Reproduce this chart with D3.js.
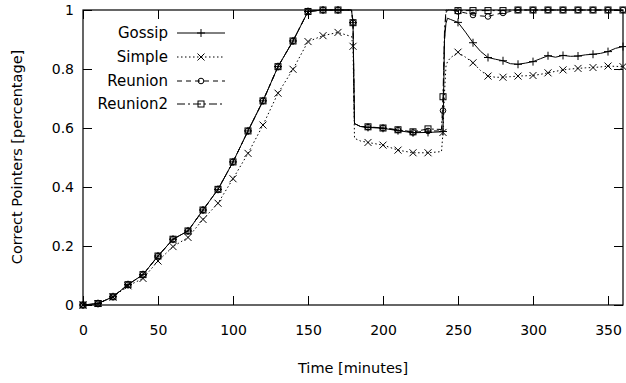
<!DOCTYPE html>
<html><head><meta charset="utf-8">
<script src="https://cdn.jsdelivr.net/npm/d3@7"></script>
<style>body{margin:0;background:#fff;} text{font-family:"DejaVu Sans",sans-serif;fill:#000;}</style>
</head><body>
<svg id="chart" width="626" height="383"></svg>
<script>
const times = [0,10,20,30,40,50,60,70,80,90,100,110,120,130,140,150,160,170,179,180,181,185,190,200,210,220,230,239,240,241,242,243,245,250,255,260,265,270,275,280,285,290,295,300,305,310,315,320,325,330,335,340,345,350,355,360];
const gossip = [0,0.005,0.028,0.069,0.103,0.166,0.223,0.251,0.322,0.392,0.485,0.59,0.692,0.808,0.895,0.995,1,1,1,0.957,0.615,0.605,0.602,0.599,0.591,0.584,0.585,0.587,0.588,0.9,0.955,0.972,0.968,0.958,0.925,0.889,0.86,0.839,0.833,0.828,0.818,0.816,0.82,0.825,0.835,0.845,0.84,0.846,0.843,0.844,0.848,0.85,0.853,0.859,0.87,0.876];
const simple = [0,0.005,0.027,0.065,0.09,0.149,0.198,0.229,0.29,0.345,0.428,0.514,0.61,0.718,0.799,0.893,0.913,0.924,0.91,0.877,0.565,0.556,0.551,0.542,0.525,0.516,0.516,0.52,0.585,0.72,0.81,0.825,0.838,0.857,0.84,0.821,0.795,0.776,0.772,0.772,0.774,0.776,0.777,0.778,0.782,0.787,0.792,0.797,0.8,0.802,0.804,0.805,0.807,0.81,0.809,0.808];
const reunion = [0,0.005,0.028,0.069,0.103,0.166,0.223,0.251,0.322,0.392,0.485,0.59,0.692,0.808,0.895,0.995,1,1,1,0.957,0.615,0.605,0.603,0.6,0.593,0.585,0.59,0.59,0.659,0.9,0.99,1,1,0.995,0.99,0.983,0.98,0.978,0.985,0.99,0.995,1,1,1,1,1,1,1,1,1,1,1,1,1,1,1];
const reunion2 = [0,0.005,0.028,0.069,0.103,0.166,0.223,0.251,0.322,0.392,0.485,0.59,0.692,0.808,0.895,0.995,1,1,1,0.957,0.615,0.605,0.604,0.6,0.594,0.587,0.597,0.595,0.706,0.93,1,1,1,0.998,0.998,0.998,0.998,0.998,0.998,0.998,1,1,1,1,1,1,1,1,1,1,1,1,1,1,1,1];
const seriesNames = ["Gossip","Simple","Reunion","Reunion2"];
const xTicks = [0,50,100,150,200,250,300,350];
const yTicks = [0,0.2,0.4,0.6,0.8,1];
const yTickLabels = ["0","0.2","0.4","0.6","0.8","1"];
const xLabel = "Time [minutes]";
const yLabel = "Correct Pointers [percentage]";

const L=83,R=623,T=10,B=305;
const x = d3.scaleLinear().domain([0,360]).range([L,R]);
const y = d3.scaleLinear().domain([0,1]).range([B,T]);
const svg = d3.select("#chart");

const styles = [
  {dash:null, marker:"plus"},
  {dash:"1.5,2.5", marker:"cross"},
  {dash:"5,4", marker:"circle"},
  {dash:"8,3,2,3", marker:"square"}
];
const values = [gossip, simple, reunion, reunion2];

function drawMarker(g, type, cx, cy){
  if(type==="plus"){
    g.append("path").attr("d",`M${cx-4},${cy}H${cx+4}M${cx},${cy-4}V${cy+4}`).attr("stroke","#000").attr("fill","none");
  } else if(type==="cross"){
    g.append("path").attr("d",`M${cx-3.5},${cy-3.5}L${cx+3.5},${cy+3.5}M${cx-3.5},${cy+3.5}L${cx+3.5},${cy-3.5}`).attr("stroke","#000").attr("fill","none");
  } else if(type==="circle"){
    g.append("circle").attr("cx",cx).attr("cy",cy).attr("r",2.8).attr("stroke","#000").attr("fill","none");
  } else {
    g.append("rect").attr("x",cx-3).attr("y",cy-3).attr("width",6).attr("height",6).attr("stroke","#000").attr("fill","none");
  }
}

const tickLen = 9;
const axB = svg.append("g").attr("transform",`translate(0,${B})`).call(d3.axisBottom(x).tickValues(xTicks).tickSizeInner(-tickLen).tickSizeOuter(0).tickPadding(20));
const axT = svg.append("g").attr("transform",`translate(0,${T})`).call(d3.axisTop(x).tickValues(xTicks).tickSizeInner(-tickLen).tickSizeOuter(0).tickFormat(""));
const axL = svg.append("g").attr("transform",`translate(${L},0)`).call(d3.axisLeft(y).tickValues(yTicks).tickSizeInner(-tickLen).tickSizeOuter(0).tickPadding(9).tickFormat((d,i)=>yTickLabels[i]));
const axR = svg.append("g").attr("transform",`translate(${R},0)`).call(d3.axisRight(y).tickValues(yTicks).tickSizeInner(-tickLen).tickSizeOuter(0).tickFormat(""));
[axB,axT,axL,axR].forEach(a=>{a.select(".domain").remove(); a.selectAll("line").attr("stroke","#000"); a.selectAll("text").style("font-family","DejaVu Sans").style("font-size","14px").attr("fill","#000");});

svg.append("rect").attr("x",L).attr("y",T).attr("width",R-L).attr("height",B-T).attr("fill","none").attr("stroke","#000").attr("stroke-width",1.2);

const pts = times.map((t,i)=>i);
values.forEach((vals,si)=>{
  const line = d3.line().x(i=>x(times[i])).y(i=>y(vals[i]));
  svg.append("path").attr("d",line(pts)).attr("fill","none").attr("stroke","#000").attr("stroke-width",1)
    .attr("stroke-dasharray",styles[si].dash);
  const g = svg.append("g");
  times.forEach((t,i)=>{ if(t%10===0) drawMarker(g, styles[si].marker, x(t), y(vals[i])); });
});

const legY = [33,57,81,104];
seriesNames.forEach((n,i)=>{
  svg.append("text").attr("x",168).attr("y",legY[i]+5).attr("text-anchor","end").style("font-size","15px").text(n);
  svg.append("line").attr("x1",177).attr("x2",225).attr("y1",legY[i]).attr("y2",legY[i]).attr("stroke","#000").attr("stroke-dasharray",styles[i].dash);
  drawMarker(svg, styles[i].marker, 201, legY[i]);
});

svg.append("text").attr("x",353).attr("y",373).attr("text-anchor","middle").style("font-size","14.5px").text(xLabel);
svg.append("text").attr("transform","translate(22,157) rotate(-90)").attr("text-anchor","middle").style("font-size","14.5px").text(yLabel);
</script>
</body></html>
